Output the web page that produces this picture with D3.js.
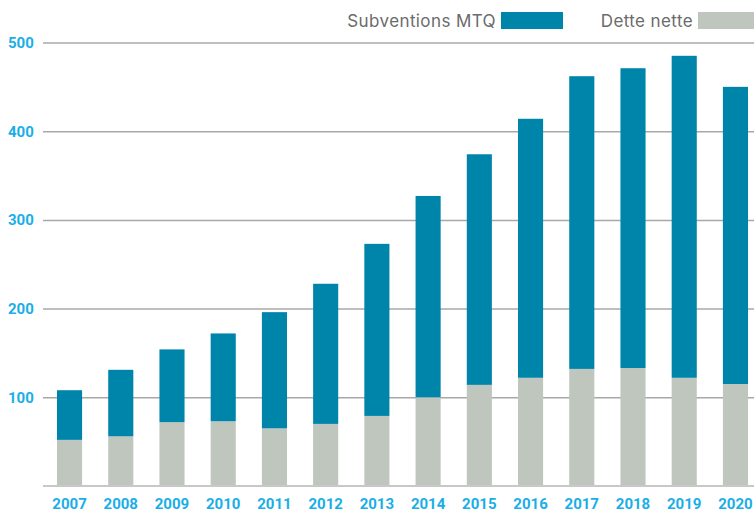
<!DOCTYPE html>
<html>
<head>
<meta charset="utf-8">
<script src="https://cdn.jsdelivr.net/npm/d3@7"></script>
<style>
  body { margin: 0; background: #fff; }
  svg { display: block; font-family: Roboto, "Noto Sans", sans-serif; }
</style>
</head>
<body>
<div id="chart"></div>
<script>
const years = ["2007", "2008", "2009", "2010", "2011", "2012", "2013", "2014", "2015", "2016", "2017", "2018", "2019", "2020"];
const detteNette = [52, 56, 72, 73, 65, 70, 79, 100, 114, 122, 132, 133, 122, 115];
const subventions = [56, 75, 82, 99, 131, 158, 194, 227, 260, 292, 330, 338, 363, 335];
const yTicks = [100, 200, 300, 400, 500];
const seriesNames = ["Subventions MTQ", "Dette nette"];

const blue = "#0085aa";
const grey = "#bfc6be";
const tickColor = "#1aaee8";

const width = 754;
const height = 512;

const svg = d3.select("#chart")
  .append("svg")
  .attr("width", width)
  .attr("height", height);

const x = d3.scaleBand()
  .domain(years)
  .range([57, 748])
  .paddingInner(0.51)
  .paddingOuter(0);

const y = d3.scaleLinear()
  .domain([0, 500])
  .range([486, 42.5]);

// Grid lines
const yAxis = svg.append("g")
  .attr("transform", "translate(43,0)")
  .call(d3.axisRight(y).tickValues(yTicks).tickSize(width - 43).tickFormat(""));
yAxis.select(".domain").remove();
yAxis.selectAll(".tick line")
  .attr("stroke", "#a8a8a8")
  .attr("stroke-width", 1.5);

// Tick labels
svg.append("g")
  .selectAll("text")
  .data(yTicks)
  .join("text")
  .attr("x", 8)
  .attr("y", d => y(d))
  .attr("dy", "0.36em")
  .attr("fill", tickColor)
  .attr("font-size", 15)
  .attr("font-weight", "bold")
  .text(d => d);

// Stacked bars
const rows = years.map((yr, i) => ({ year: yr, dette: detteNette[i], subv: subventions[i] }));
const stack = d3.stack().keys(["dette", "subv"])(rows);
const colors = { dette: grey, subv: blue };

svg.append("g")
  .selectAll("g")
  .data(stack)
  .join("g")
  .attr("fill", d => colors[d.key])
  .selectAll("rect")
  .data(d => d)
  .join("rect")
  .attr("x", d => x(d.data.year))
  .attr("width", x.bandwidth())
  .attr("y", d => y(d[1]))
  .attr("height", d => y(d[0]) - y(d[1]));

// Baseline
svg.append("line")
  .attr("x1", 43)
  .attr("x2", width)
  .attr("y1", y(0))
  .attr("y2", y(0))
  .attr("stroke", "#c8c8c8")
  .attr("stroke-width", 2);

// X labels
svg.append("g")
  .selectAll("text")
  .data(years)
  .join("text")
  .attr("x", d => x(d) + x.bandwidth() / 2)
  .attr("y", 504)
  .attr("dy", "0.36em")
  .attr("text-anchor", "middle")
  .attr("fill", tickColor)
  .attr("font-size", 15)
  .attr("font-weight", "bold")
  .text(d => d);

// Legend
const legend = [
  { name: seriesNames[0], color: blue, x: 501, w: 62 },
  { name: seriesNames[1], color: grey, x: 698, w: 56 }
];
const lg = svg.append("g")
  .selectAll("g")
  .data(legend)
  .join("g");
lg.append("rect")
  .attr("x", d => d.x)
  .attr("y", 12)
  .attr("width", d => d.w)
  .attr("height", 17)
  .attr("fill", d => d.color);
lg.append("text")
  .attr("x", d => d.x - 5)
  .attr("y", 21)
  .attr("dy", "0.36em")
  .attr("text-anchor", "end")
  .attr("fill", "#6b6b6b")
  .attr("font-family", "Inter, Roboto, sans-serif")
  .attr("font-size", 17)
  .attr("letter-spacing", 0.4)
  .text(d => d.name);
</script>
</body>
</html>
